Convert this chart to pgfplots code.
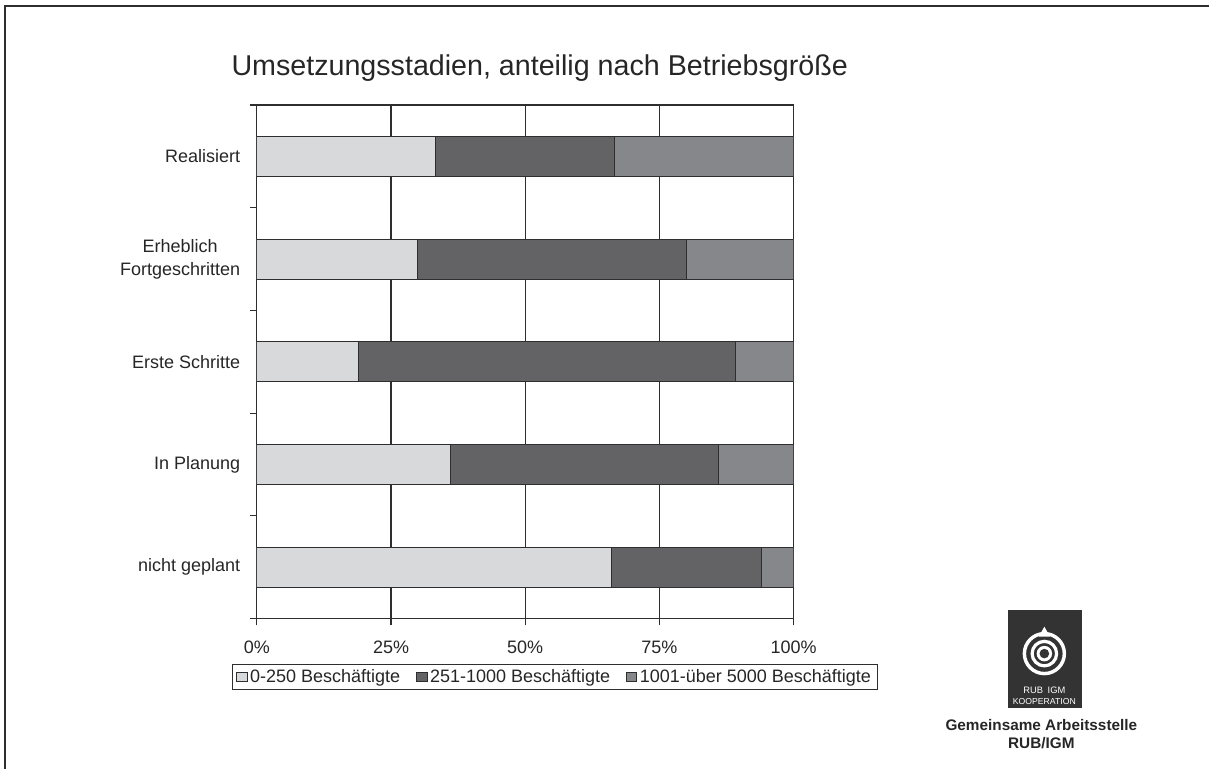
\documentclass[border=0pt]{standalone}
\usepackage{pgfplots}
\pgfplotsset{compat=1.18}
\usepackage{pgfplotstable}
\usepackage{fontspec}
\setmainfont{Liberation Sans}
\definecolor{cLight}{HTML}{D8D9DB}
\definecolor{cDark}{HTML}{636365}
\definecolor{cMid}{HTML}{86878A}
\definecolor{cLine}{HTML}{2E2E2E}
\definecolor{cLogo}{HTML}{333333}
\pgfplotstableread{
idx a b c
0 33.3 33.4 33.3
1 30.0 50.0 20.0
2 19.0 70.2 10.8
3 36.0 50.0 14.0
4 66.0 28.0 6.0
}\data
\begin{document}
\begin{tikzpicture}[x=0.75pt,y=-0.75pt]
\path (0,0) rectangle (1210,769);
\coordinate (A) at (257,105);
\draw[cLine, line width=1.1pt] (5,769) -- (5,6) -- (1210,6);
\node[font=\fontsize{21.5}{25}\selectfont, text=black!85] at (540,68) {Umsetzungsstadien, anteilig nach Betriebsgröße};
\begin{axis}[at={(A)}, anchor=north west, scale only axis,
  width=402.75pt, height=385.5pt,
  xbar stacked, bar width=30pt,
  xmin=0, xmax=100, ymin=-0.5, ymax=4.5, y dir=reverse,
  axis line style={cLine, line width=0.9pt},
  xtick={0,25,50,75,100}, xticklabels={0\%,25\%,50\%,75\%,100\%},
  xmajorgrids, major grid style={cLine, line width=0.9pt},
  ytick={-0.5,0.5,1.5,2.5,3.5,4.5}, yticklabels={},
  extra y ticks={0,1,2,3,4},
  extra y tick labels={Realisiert,{Erheblich\\Fortgeschritten},Erste Schritte,In Planung,nicht geplant},
  extra y tick style={major tick length=0pt, grid=none},
  tick pos=left, tick align=outside, major tick length=5pt,
  tick style={cLine, line width=0.9pt},
  yticklabel style={align=center, font=\fontsize{13.5}{17}\selectfont, text=black!85, xshift=-9pt},
  xticklabel style={font=\fontsize{13.5}{16}\selectfont, text=black!85, yshift=-8pt},
  legend style={at={(-0.0466,-0.0875)}, anchor=north west, legend columns=3,
    draw=cLine, line width=0.8pt, font=\fontsize{13.5}{16}\selectfont, text=black!85,
    inner ysep=2pt, inner xsep=3pt,
    /tikz/every even column/.append style={column sep=10pt}},
  legend image code/.code={\draw[#1, line width=0.6pt] (0pt,-3.7pt) rectangle (7.8pt,3.7pt);},
]
\addplot[fill=cLight, draw=cLine, line width=0.8pt] table[x=a, y=idx] {\data};
\addplot[fill=cDark, draw=cLine, line width=0.8pt] table[x=b, y=idx] {\data};
\addplot[fill=cMid, draw=cLine, line width=0.8pt] table[x=c, y=idx] {\data};
\legend{0-250 Beschäftigte, 251-1000 Beschäftigte, 1001-über 5000 Beschäftigte}
\end{axis}
% logo
\fill[cLogo] (1009,610) rectangle (1083,708);
\draw[white, line width=2.6pt] (1045,654) circle (15pt);
\fill[white] (1045,627) -- (1039.5,637) -- (1050.5,637) -- cycle;
\draw[white, line width=2.4pt] (1045,654) circle (9.2pt);
\fill[white] (1045,654) circle (5.8pt);
\fill[cLogo] (1045,654) circle (3.6pt);
\node[white, font=\fontsize{7}{8}\selectfont] at (1045,691) {RUB\enspace IGM};
\node[white, font=\fontsize{6.5}{7}\selectfont, inner sep=0pt] at (1045,702) {KOOPERATION};
\node[font=\bfseries\fontsize{11.5}{13.5}\selectfont, align=center, text=black!85] at (1042,735) {Gemeinsame Arbeitsstelle\\RUB/IGM};
\end{tikzpicture}
\end{document}
